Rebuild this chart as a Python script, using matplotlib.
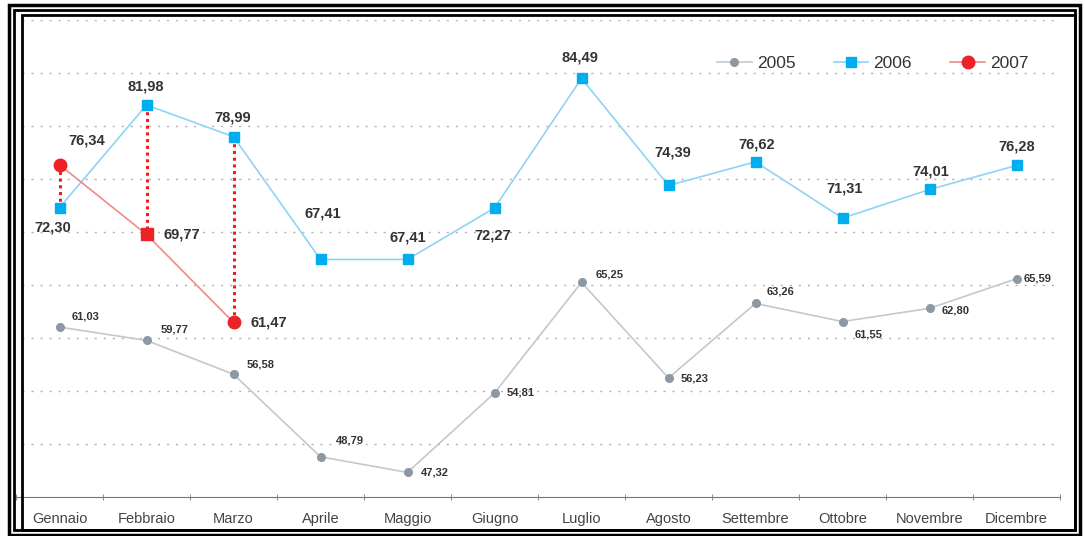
import numpy as np
import matplotlib.pyplot as plt
from matplotlib.patches import Rectangle

plt.rcParams['font.family'] = ['Liberation Sans', 'DejaVu Sans']

mesi = ['Gennaio', 'Febbraio', 'Marzo', 'Aprile', 'Maggio', 'Giugno', 'Luglio',
        'Agosto', 'Settembre', 'Ottobre', 'Novembre', 'Dicembre']
v2005 = [61.03, 59.77, 56.58, 48.79, 47.32, 54.81, 65.25, 56.23, 63.26, 61.55, 62.80, 65.59]
v2006 = [72.30, 81.98, 78.99, 67.41, 67.41, 72.27, 84.49, 74.39, 76.62, 71.31, 74.01, 76.28]
v2007 = [76.34, 69.77, 61.47]

# label offsets in pixels (dx, dy)
off2005 = [(26, 11), (28, 11), (27, 10), (29, 16), (27, 0), (26, 1), (28, 8), (26, -1), (25, 12), (26, -13), (26, -2), (21, 0)]
off2006 = [(-7, -20), (-1, 19), (-1, 19), (2, 46), (0, 22), (-2, -28), (-2, 21), (4, 33), (1, 17), (2, 30), (1, 18), (0, 19)]
off2007 = [(27, 24), (35, 0), (35, 0)]

def fmt(v):
    return ('%.2f' % v).replace('.', ',')

fig = plt.figure(figsize=(10.85, 5.36), dpi=100)
ax = fig.add_axes([16 / 1085, 1 - 497 / 536, (1060 - 16) / 1085, (497 - 20) / 536])

x = np.arange(12)
x7 = np.arange(3)

# red dotted connectors 2006-2007
for i in x7:
    ax.plot([i, i], [v2006[i], v2007[i]], color='#ee1c1c', lw=2.2, ls=(0, (1, 1.2)), zorder=2)

ax.plot(x, v2005, color='#c4c8cc', lw=1.2, marker='o', ms=5.5, mfc='#8e98a3', mec='#8e98a3', label='2005', zorder=3)
ax.plot(x, v2006, color='#8fd3f5', lw=1.2, marker='s', ms=7, mfc='#00adef', mec='#00adef', label='2006', zorder=4)
ax.plot(x7, v2007, color='#f08a8a', lw=1.2, zorder=5)
ax.plot([0, 2], [v2007[0], v2007[2]], ls='none', marker='o', ms=9, mfc='#ec2326', mec='#ec2326', zorder=6)
ax.plot([1], [v2007[1]], ls='none', marker='s', ms=8, mfc='#ec2326', mec='#ec2326', zorder=6)
ax.plot([], [], color='#f08a8a', lw=1.2, marker='o', ms=9, mfc='#ec2326', mec='#ec2326', label='2007')

for i, v in enumerate(v2005):
    ax.annotate(fmt(v), (i, v), xytext=off2005[i], textcoords='offset pixels',
                ha='center', va='center', fontsize=8, fontweight='bold', color='#333333', zorder=7)
for i, v in enumerate(v2006):
    ax.annotate(fmt(v), (i, v), xytext=off2006[i], textcoords='offset pixels',
                ha='center', va='center', fontsize=10.5, fontweight='bold', color='#333333', zorder=7)
for i, v in enumerate(v2007):
    ax.annotate(fmt(v), (i, v), xytext=off2007[i], textcoords='offset pixels',
                ha='center', va='center', fontsize=10.5, fontweight='bold', color='#333333', zorder=7)

ax.set_xlim(-0.5, 11.5)
ax.set_ylim(45, 90)
for gy in np.arange(50, 91, 5):
    ax.plot([-0.43, 11.5], [gy, gy], color='#b0b0b0', ls=(0, (1.5, 5)), lw=1, zorder=1)
ax.tick_params(axis='y', left=False, labelleft=False)
ax.set_yticks([])
ax.set_xticks(x)
ax.set_xticklabels(mesi, fontsize=10.5, color='#444444')
ax.set_xticks(np.arange(-0.5, 12, 1), minor=True)
ax.tick_params(axis='x', which='major', length=0, pad=11)
ax.tick_params(axis='x', which='minor', length=4, color='#777777', direction='inout')
for s in ['top', 'left', 'right']:
    ax.spines[s].set_visible(False)
ax.spines['bottom'].set_color('#777777')

ax.legend(loc='upper right', bbox_to_anchor=(0.985, 0.958), ncol=3, frameon=False,
          fontsize=12.5, handlelength=2.0, columnspacing=2.2, handletextpad=0.3,
          labelcolor='#333333')

# double frame
W, H = 1085, 536
for (x0, y0, x1, y1, lw) in [(8.5, 4.5, 1079.5, 534.5, 2.5), (14, 10, 1074.5, 529.5, 2), (21.5, 14.5, 1074.5, 529.5, 2)]:
    fig.patches.append(Rectangle((x0 / W, 1 - y1 / H), (x1 - x0) / W, (y1 - y0) / H,
                                 transform=fig.transFigure, fill=False, ec='black', lw=lw))

fig.savefig('out.png', dpi=100)
